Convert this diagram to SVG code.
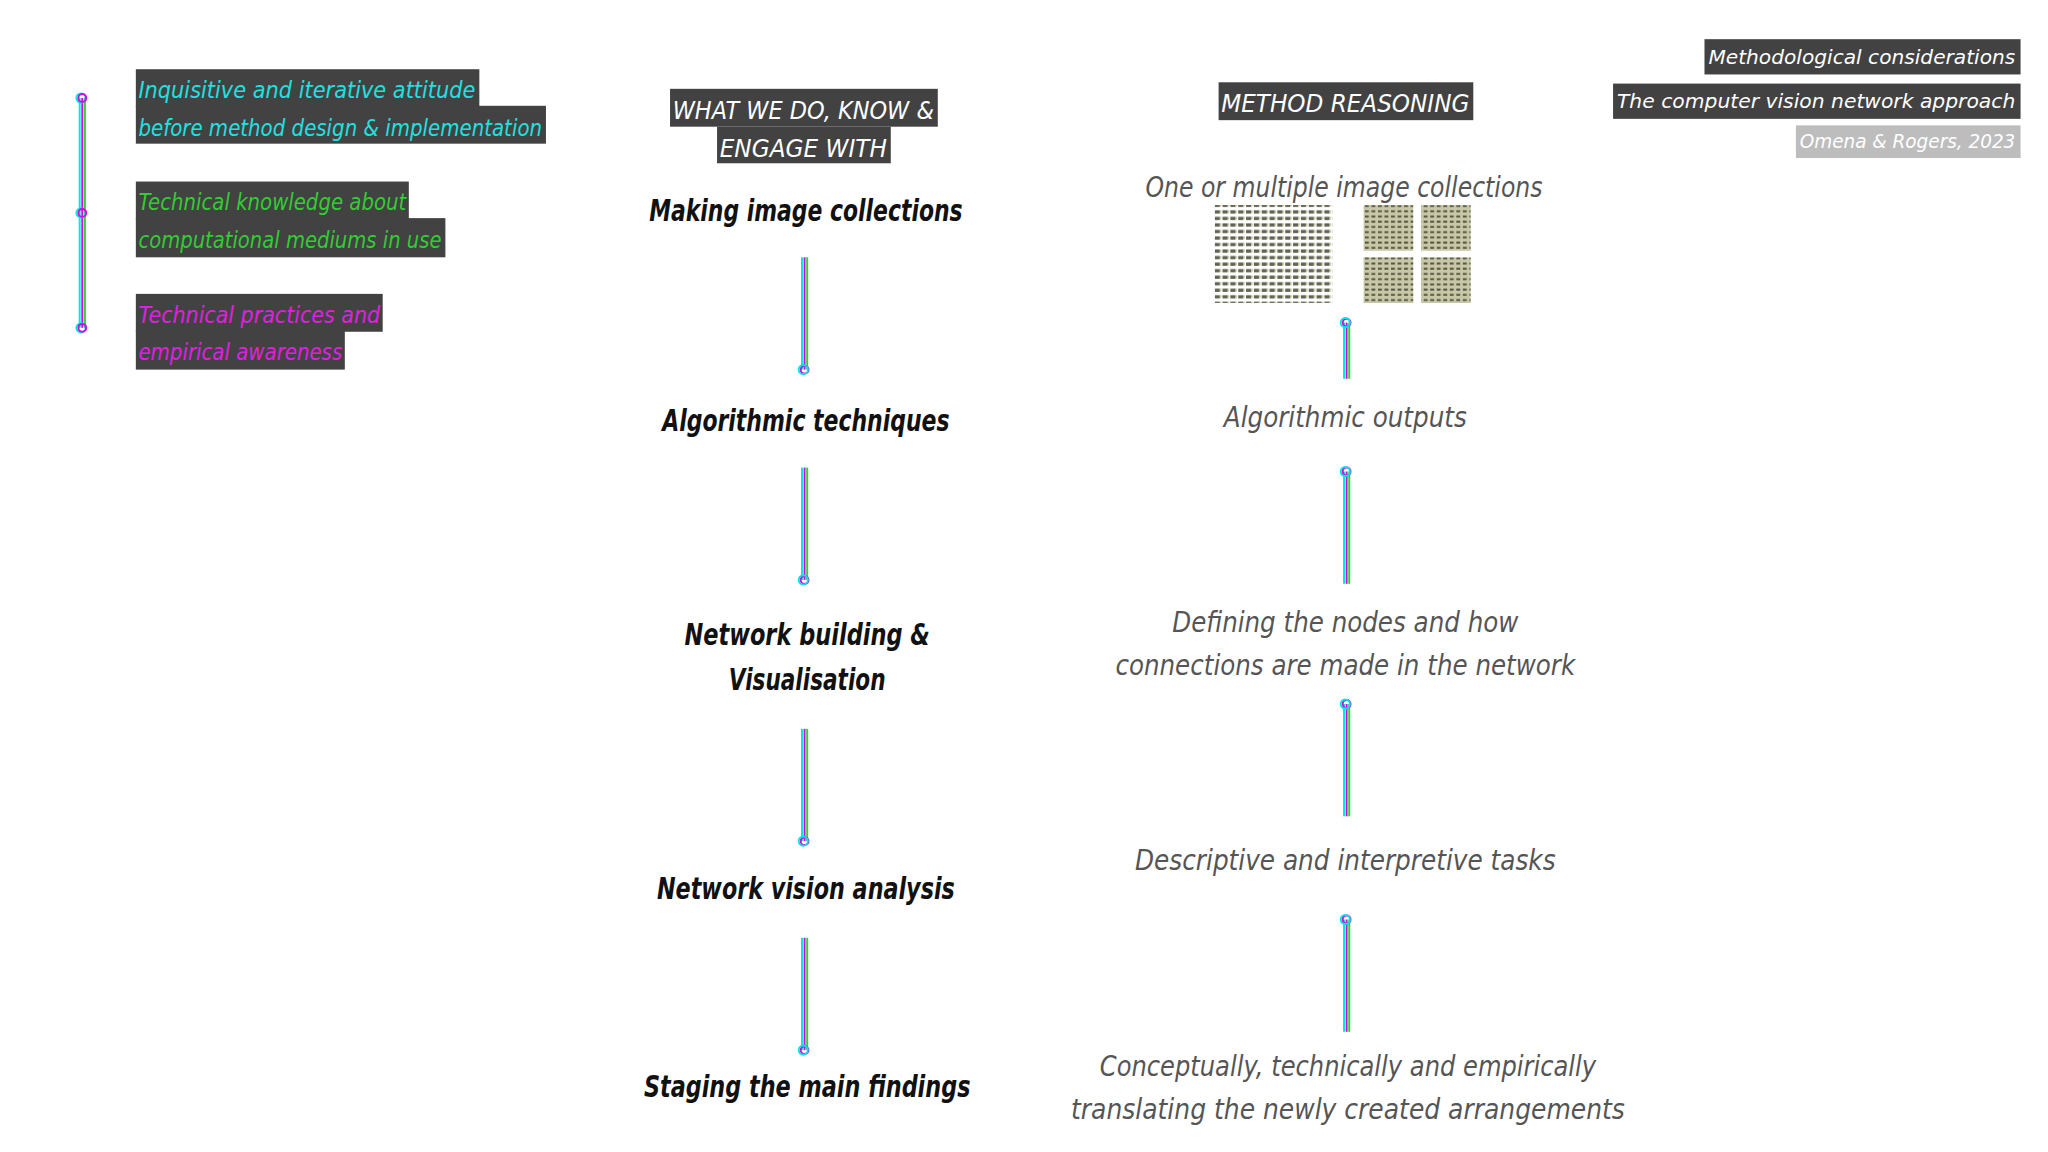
<svg xmlns="http://www.w3.org/2000/svg" width="2048" height="1152" viewBox="0 0 2048 1152">
<defs>
<style>
.hd{font-family:"DejaVu Sans",sans-serif;font-style:italic;font-size:19px;fill:#fff}
.tt{font-family:"DejaVu Sans",sans-serif;font-style:italic;font-size:15px;fill:#fff}
.lb{font-family:"DejaVu Sans",sans-serif;font-style:italic;font-size:18px}
.nd{font-family:"DejaVu Sans",sans-serif;font-style:italic;font-weight:bold;font-size:23px;fill:#111;text-anchor:middle}
.rs{font-family:"DejaVu Sans",sans-serif;font-style:italic;font-size:22px;fill:#555;text-anchor:middle}
.box{fill:#424242}
.c{stroke:#00e5e5;stroke-width:1.5;fill:none}
.m{stroke:#e000e0;stroke-width:1.5;fill:none}
.g{stroke:#22dd22;stroke-width:1.5;fill:none}
</style>
<pattern id="dots" width="6" height="5" patternUnits="userSpaceOnUse">
<rect x="0" y="1" width="4" height="2.5" fill="#3a3a2a"/>
<rect x="4" y="1" width="1" height="2" fill="#a8b060"/>
</pattern>
<pattern id="tex" width="5" height="4" patternUnits="userSpaceOnUse">
<rect width="5" height="4" fill="#c8c8a8"/>
<rect x="0" y="1" width="3" height="1.5" fill="#555540"/>
</pattern>
<g id="conn">
<line class="c" x1="-2" y1="0" x2="-2" y2="86"/>
<line class="g" x1="2" y1="0" x2="2" y2="86"/>
<line class="m" x1="0" y1="0" x2="0" y2="86"/>
</g>
<g id="connS">
<line class="c" x1="-2" y1="0" x2="-2" y2="43"/>
<line class="g" x1="2" y1="0" x2="2" y2="43"/>
<line class="m" x1="0" y1="0" x2="0" y2="43"/>
</g>
</defs>
<rect width="2048" height="1152" fill="#fff"/>
<g transform="scale(1.30612)">
<g id="legend-line">
<line class="c" x1="61" y1="75" x2="61" y2="251"/>
<line class="g" x1="65" y1="75" x2="65" y2="251"/>
<line class="m" x1="63" y1="75" x2="63" y2="251"/>
<circle class="c" cx="62" cy="75" r="3.5"/><circle class="m" cx="63" cy="75" r="3"/>
<circle class="c" cx="62" cy="163" r="3.5"/><circle class="m" cx="63" cy="163" r="3"/>
<circle class="c" cx="62" cy="251" r="3.5"/><circle class="m" cx="63" cy="251" r="3"/>
</g>
<g id="legend1">
<rect class="box" x="104" y="53" width="263" height="29"/><rect class="box" x="104" y="81" width="314" height="29"/>
<text class="lb" fill="#22e0e0" x="106" y="75" textLength="258" lengthAdjust="spacingAndGlyphs">Inquisitive and iterative attitude</text>
<text class="lb" fill="#22e0e0" x="106" y="104" textLength="309" lengthAdjust="spacingAndGlyphs">before method design &amp; implementation</text>
</g>
<g id="legend2">
<rect class="box" x="104" y="139" width="209" height="29"/><rect class="box" x="104" y="167" width="237" height="30"/>
<text class="lb" fill="#33cc33" x="106" y="161" textLength="205" lengthAdjust="spacingAndGlyphs">Technical knowledge about</text>
<text class="lb" fill="#33cc33" x="106" y="190" textLength="232" lengthAdjust="spacingAndGlyphs">computational mediums in use</text>
</g>
<g id="legend3">
<rect class="box" x="104" y="225" width="189" height="29"/><rect class="box" x="104" y="253" width="160" height="30"/>
<text class="lb" fill="#e020e0" x="106" y="247" textLength="185" lengthAdjust="spacingAndGlyphs">Technical practices and</text>
<text class="lb" fill="#e020e0" x="106" y="276" textLength="156" lengthAdjust="spacingAndGlyphs">empirical awareness</text>
</g>
<g id="title">
<rect class="box" x="1305" y="30" width="242" height="27"/>
<rect class="box" x="1235" y="64" width="312" height="27"/>
<rect fill="#bdbdbd" x="1375" y="96" width="172" height="25"/>
<text class="tt" x="1308" y="49" textLength="235" lengthAdjust="spacingAndGlyphs">Methodological considerations</text>
<text class="tt" x="1238" y="83" textLength="305" lengthAdjust="spacingAndGlyphs">The computer vision network approach</text>
<text class="tt" x="1378" y="113" font-size="14" textLength="165" lengthAdjust="spacingAndGlyphs">Omena &amp; Rogers, 2023</text>
</g>
<g id="header-mid">
<rect class="box" x="513" y="68" width="205" height="29"/>
<rect class="box" x="549" y="97" width="133" height="28"/>
<text class="hd" x="515" y="91" textLength="200" lengthAdjust="spacingAndGlyphs">WHAT WE DO, KNOW &amp;</text>
<text class="hd" x="551" y="120" textLength="128" lengthAdjust="spacingAndGlyphs">ENGAGE WITH</text>
</g>
<g id="header-right">
<rect class="box" x="933" y="63" width="195" height="29"/>
<text class="hd" x="935" y="86" textLength="190" lengthAdjust="spacingAndGlyphs">METHOD REASONING</text>
</g>
<g id="n1"><text class="nd" x="617" y="169" textLength="240" lengthAdjust="spacingAndGlyphs">Making image collections</text></g>
<g id="n2"><text class="nd" x="617" y="330" textLength="220" lengthAdjust="spacingAndGlyphs">Algorithmic techniques</text></g>
<g id="n3"><text class="nd" x="618" y="494" textLength="188" lengthAdjust="spacingAndGlyphs">Network building &amp;</text><text class="nd" x="618" y="528" textLength="120" lengthAdjust="spacingAndGlyphs">Visualisation</text></g>
<g id="n4"><text class="nd" x="617" y="688" textLength="228" lengthAdjust="spacingAndGlyphs">Network vision analysis</text></g>
<g id="n5"><text class="nd" x="618" y="840" textLength="250" lengthAdjust="spacingAndGlyphs">Staging the main findings</text></g>
<g id="r1"><text class="rs" x="1029" y="151" textLength="304" lengthAdjust="spacingAndGlyphs">One or multiple image collections</text>
<rect x="930" y="157" width="90" height="75" fill="url(#dots)" opacity="0.8"/>
<rect x="1044" y="157" width="38" height="35" fill="url(#tex)"/>
<rect x="1088" y="157" width="38" height="35" fill="url(#tex)"/>
<rect x="1044" y="197" width="38" height="35" fill="url(#tex)"/>
<rect x="1088" y="197" width="38" height="35" fill="url(#tex)"/>
</g>
<g id="r2"><text class="rs" x="1030" y="327" textLength="186" lengthAdjust="spacingAndGlyphs">Algorithmic outputs</text></g>
<g id="r3"><text class="rs" x="1030" y="484" textLength="265" lengthAdjust="spacingAndGlyphs">Defining the nodes and how</text><text class="rs" x="1030" y="517" textLength="352" lengthAdjust="spacingAndGlyphs">connections are made in the network</text></g>
<g id="r4"><text class="rs" x="1030" y="666" textLength="322" lengthAdjust="spacingAndGlyphs">Descriptive and interpretive tasks</text></g>
<g id="r5"><text class="rs" x="1032" y="824" textLength="380" lengthAdjust="spacingAndGlyphs">Conceptually, technically and empirically</text><text class="rs" x="1032" y="857" textLength="424" lengthAdjust="spacingAndGlyphs">translating the newly created arrangements</text></g>
<g id="connectors">
<use href="#conn" x="616" y="197"/><circle class="m" cx="616" cy="283" r="3"/><circle class="c" cx="615" cy="283" r="3.5"/>
<use href="#conn" x="616" y="358"/><circle class="m" cx="616" cy="444" r="3"/><circle class="c" cx="615" cy="444" r="3.5"/>
<use href="#conn" x="616" y="558"/><circle class="m" cx="616" cy="644" r="3"/><circle class="c" cx="615" cy="644" r="3.5"/>
<use href="#conn" x="616" y="718"/><circle class="m" cx="616" cy="804" r="3"/><circle class="c" cx="615" cy="804" r="3.5"/>
<use href="#connS" x="1031" y="247"/><circle class="m" cx="1031" cy="247" r="3"/><circle class="c" cx="1030" cy="247" r="3.5"/>
<use href="#conn" x="1031" y="361"/><circle class="m" cx="1031" cy="361" r="3"/><circle class="c" cx="1030" cy="361" r="3.5"/>
<use href="#conn" x="1031" y="539"/><circle class="m" cx="1031" cy="539" r="3"/><circle class="c" cx="1030" cy="539" r="3.5"/>
<use href="#conn" x="1031" y="704"/><circle class="m" cx="1031" cy="704" r="3"/><circle class="c" cx="1030" cy="704" r="3.5"/>
</g>
</g>
</svg>
